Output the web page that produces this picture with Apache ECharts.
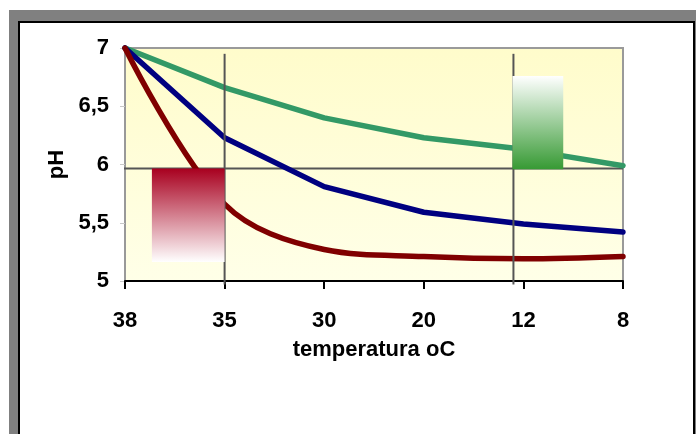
<!DOCTYPE html>
<html>
<head>
<meta charset="utf-8">
<title>pH x temperatura</title>
<script src="https://cdn.jsdelivr.net/npm/echarts@6/dist/echarts.min.js"></script>
<style>
  html, body { margin: 0; padding: 0; width: 696px; height: 434px; overflow: hidden; background: #fff; }
  #frameShade { position: absolute; left: 9px; top: 10px; width: 720px; height: 500px; background: #808080; }
  #framePanel { position: absolute; left: 18px; top: 21px; width: 677px; height: 500px; box-sizing: border-box;
                border: 2px solid #000; background: #fff; }
  #chart { position: absolute; left: 0; top: 0; width: 696px; height: 434px; }
</style>
</head>
<body>
<div id="frameShade"></div>
<div id="framePanel"></div>
<div id="chart"></div>
<script>
// Temperature categories (oC) along the x axis
const tempLabels = ['38', '35', '30', '20', '12', '8'];

// pH readings for each temperature
const phGreen = [7.0, 6.66, 6.40, 6.23, 6.13, 5.99];
const phBlue  = [7.0, 6.23, 5.81, 5.59, 5.49, 5.42];
const phRed   = [7.0, 5.66, 5.27, 5.21, 5.19, 5.21];

// y axis range
const phMin = 5, phMax = 7, phStep = 0.5;

// Reference guide lines (category index, pH)
const guideH = [[-0.1, 5.965], [5, 5.965]];
const guideV35 = [[1, 6.95], [1, 4.97]];
const guideV12 = [[3.9, 6.95], [3.9, 4.97]];

// Shaded boxes: [x from, x to, pH top, pH bottom]
const boxes = [
  [0.27, 1.0, 5.965, 5.163],
  [3.89, 4.40, 6.76, 5.96]
];

const FONT = "'Liberation Sans', Arial, sans-serif";

const toPairs = arr => arr.map((v, i) => [i, v]);

const boxFills = [
  new echarts.graphic.LinearGradient(0, 0, 0, 1, [
    { offset: 0, color: '#a8001f' }, { offset: 1, color: '#ffffff' }
  ]),
  new echarts.graphic.LinearGradient(0, 0, 0, 1, [
    { offset: 0, color: '#ffffff' }, { offset: 1, color: '#379a34' }
  ])
];

function dataLine(name, data, color, smooth, z) {
  return {
    name, type: 'line', data: toPairs(data), smooth, symbol: 'none', clip: false, z,
    lineStyle: { color, width: 5.5, cap: 'round', join: 'round' }, silent: true
  };
}

function guideLine(data, z) {
  return {
    type: 'line', data, symbol: 'none', clip: false, z, silent: true,
    lineStyle: { color: '#555', width: 2 }
  };
}

const textStyle = { fontFamily: FONT, fontWeight: 'bold', fontSize: 22, color: '#000' };

const chart = echarts.init(document.getElementById('chart'));
chart.setOption({
  animation: false,
  grid: {
    left: 125, right: 73, top: 48, bottom: 153,
    show: true,
    borderColor: '#9a9a9a', borderWidth: 2,
    backgroundColor: new echarts.graphic.LinearGradient(0, 0, 0, 1, [
      { offset: 0, color: '#fffccb' }, { offset: 1, color: '#ffffe8' }
    ])
  },
  xAxis: {
    type: 'value', min: 0, max: tempLabels.length - 1, interval: 1,
    name: 'temperatura oC', nameLocation: 'middle', nameGap: 58,
    nameTextStyle: Object.assign({}, textStyle),
    axisLine: { lineStyle: { color: '#000', width: 2 } },
    axisTick: { show: true, length: 8, lineStyle: { color: '#000', width: 2 } },
    axisLabel: Object.assign({ margin: 29, formatter: v => tempLabels[v] ?? '' }, textStyle),
    splitLine: { show: false }
  },
  yAxis: {
    type: 'value', min: phMin, max: phMax, interval: phStep,
    name: 'pH', nameLocation: 'middle', nameGap: 57, nameRotate: 90,
    nameTextStyle: Object.assign({}, textStyle),
    axisLine: { show: true, lineStyle: { color: '#999', width: 2 } },
    axisTick: { show: true, length: 5, lineStyle: { color: '#c8c8c8', width: 1 } },
    axisLabel: Object.assign({ margin: 16, formatter: v => String(v).replace('.', ',') }, textStyle),
    splitLine: { show: false }
  },
  series: [
    guideLine(guideH, 1),
    dataLine('verde', phGreen, '#339966', false, 2),
    dataLine('azul', phBlue, '#000080', false, 2),
    dataLine('vermelho', phRed, '#800000', 0.35, 2),
    guideLine(guideV35, 3),
    guideLine(guideV12, 3),
    {
      type: 'custom', z: 4, silent: true, clip: false,
      data: boxes,
      renderItem(params, api) {
        const a = api.coord([api.value(0), api.value(2)]);
        const b = api.coord([api.value(1), api.value(3)]);
        return {
          type: 'rect',
          shape: { x: a[0], y: a[1], width: b[0] - a[0], height: b[1] - a[1] },
          style: { fill: boxFills[params.dataIndex] }
        };
      }
    }
  ]
});
</script>
</body>
</html>
